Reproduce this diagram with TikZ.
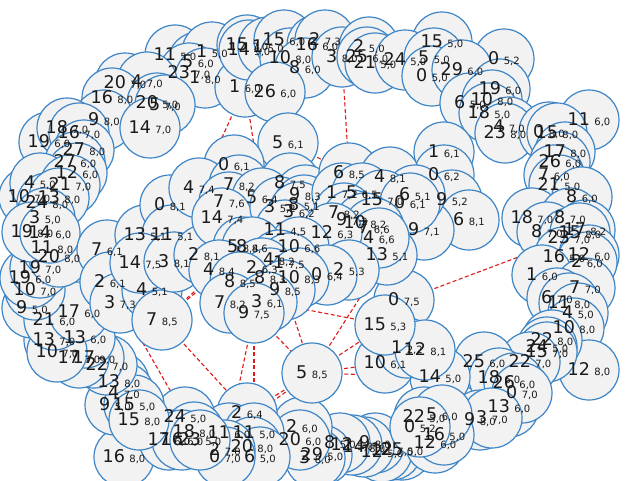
\documentclass[tikz,border=0pt]{standalone}
\usepackage{fontspec}
\setmainfont{DejaVu Sans}
\definecolor{ndline}{HTML}{3D85C6}
\definecolor{ndfill}{HTML}{F2F2F2}
\definecolor{edgered}{HTML}{E01818}
\definecolor{txt}{HTML}{1A1A1A}
\pgfdeclarelayer{bg}
\pgfdeclarelayer{fg}
\pgfsetlayers{bg,main,fg}
\newcommand\numf{\fontsize{17.5}{18}\selectfont}
\newcommand\subf{\fontsize{10}{11}\selectfont}
\newcommand\nd[4]{\node[nd] (#1) at (#2) {};%
  \begin{pgfonlayer}{fg}\node[ndlabel] at (#2) {\numf #3\hspace{4.5pt}\subf #4};\end{pgfonlayer}}
\tikzset{
  nd/.style={circle, draw=ndline, fill=ndfill, line width=1.2pt, minimum size=60pt, inner sep=0pt},
  ndlabel/.style={inner sep=0pt, text=txt},
  redge/.style={draw=edgered, line width=1.1pt, dash pattern=on 4pt off 2.5pt}
}
\begin{document}
\begin{tikzpicture}[x=1pt,y=-1pt]
\begin{pgfonlayer}{bg}
\fill[white] (0,0) rectangle (640,480);
\end{pgfonlayer}
\useasboundingbox (0,0) rectangle (640,480);
% top arc
\nd{t1}{175,55}{11}{5,0}
\nd{t2}{198,62}{5}{6,0}
\nd{t3}{212,52}{1}{5,0}
\nd{t5}{189,73}{23}{7,0}
\nd{t6}{205,78}{1}{8,0}
\nd{a160}{245,87}{1}{6,0}
\nd{t9}{247,45}{15}{7,0}
\nd{t10}{249,50}{14}{5,0}
\nd{t11}{268,47}{1}{5,0}
\nd{t12}{284,40}{15}{6,0}
\nd{t13}{290,58}{10}{8,0}
\nd{t14}{317,45}{16}{6,0}
\nd{t15}{325,40}{2}{7,3}
\nd{t16}{305,68}{8}{6,0}
\nd{a2660}{275,92}{26}{6,0}
\nd{a380}{342,57}{3}{8,0}
\nd{t18}{369,47}{2}{5,0}
\nd{t19}{367,57}{25}{6,0}
\nd{t20}{375,63}{21}{5,0}
\nd{t22}{442,42}{15}{5,0}
\nd{t21}{405,60}{24}{5,0}
\nd{t23}{434,58}{5}{5,0}
\nd{t24}{432,76}{0}{5,0}
\nd{t27}{504,59}{0}{5,2}
\nd{t25}{462,70}{29}{6,0}
\nd{t28}{500,89}{19}{6,0}
\nd{t29}{470,103}{6}{5,0}
\nd{t30}{492,100}{10}{8,0}
\nd{t31}{489,113}{18}{5,0}
\nd{t32}{509,127}{4}{7,0}
\nd{t33}{505,133}{23}{8,0}
\nd{t36}{589,120}{11}{6,0}
\nd{t34}{549,132}{0}{8,0}
\nd{t35}{557,133}{15}{8,0}
% right side
\nd{r37}{565,152}{17}{8,0}
\nd{r38}{560,162}{26}{6,0}
\nd{r39}{554,175}{7}{6,0}
\nd{r40}{559,185}{21}{5,0}
\nd{r41}{582,197}{8}{6,0}
\nd{r42}{532,218}{18}{7,0}
\nd{r43}{570,218}{8}{7,0}
\nd{r44}{547,232}{8}{7,0}
\nd{a2370}{569,238}{23}{7,0}
\nd{r46}{585,230}{17}{8,2}
\nd{r47}{580,233}{15}{8,0}
\nd{r48}{564,257}{16}{5,0}
\nd{r49}{589,255}{12}{6,0}
\nd{r50}{587,262}{2}{6,0}
\nd{r51}{542,275}{1}{6,0}
\nd{r52}{585,288}{7}{7,0}
\nd{r53}{557,298}{6}{7,0}
\nd{r54}{569,303}{11}{8,0}
\nd{r55}{578,313}{4}{5,0}
\nd{r56}{574,328}{10}{8,0}
\nd{r60}{589,370}{12}{8,0}
\nd{r57}{552,340}{22}{8,0}
\nd{r58}{547,347}{24}{5,0}
\nd{r59}{547,352}{15}{7,0}
\nd{r61}{530,362}{22}{7,0}
% bottom right
\nd{b62}{484,362}{25}{6,0}
\nd{b66}{509,407}{13}{6,0}
\nd{b63}{499,378}{18}{6,0}
\nd{b64}{514,383}{26}{6,0}
\nd{b65}{522,393}{0}{7,0}
\nd{b81}{480,420}{9}{8,0}
\nd{b82}{492,418}{3}{7,0}
\nd{a075}{404,300}{0}{7,5}
\nd{a1450}{440,377}{14}{5,0}
\nd{a1061}{385,363}{10}{6,1}
\nd{b69}{407,348}{1}{2,2}
\nd{b68}{425,350}{12}{8,1}
\nd{a1553}{385,325}{15}{5,3}
% bottom row
\nd{bb1}{402,450}{25}{5,0}
\nd{bb2}{392,450}{12}{7,0}
\nd{bb3}{382,452}{12}{5,0}
\nd{bb4}{375,443}{9}{8,0}
\nd{bb5}{364,447}{14}{8,0}
\nd{bb6}{352,445}{12}{5,0}
\nd{bb7}{340,443}{8}{5,0}
\nd{bb8}{322,455}{29}{5,0}
\nd{bb9}{315,458}{3}{8,0}
\nd{bb10}{302,427}{2}{6,0}
\nd{bb11}{300,440}{20}{6,0}
\nd{b80}{435,443}{12}{6,0}
\nd{b79}{444,435}{16}{5,0}
\nd{b76}{424,417}{22}{5,0}
\nd{b77}{442,415}{5}{6,0}
\nd{b78}{420,427}{0}{5,2}
% bottom left
\nd{a264}{247,413}{2}{6,4}
\nd{a1160}{229,433}{11}{6,0}
\nd{a1150}{254,433}{11}{5,0}
\nd{bl1}{252,447}{20}{8,0}
\nd{bl2}{260,457}{6}{5,0}
\nd{bl3}{225,450}{2}{7,0}
\nd{bl4}{225,457}{0}{7,0}
\nd{bl10}{124,457}{16}{8,0}
\nd{bl5}{185,417}{24}{5,0}
\nd{a1880}{194,432}{18}{8,0}
\nd{bl6}{169,440}{17}{6,0}
\nd{bl7}{182,440}{16}{6,0}
\nd{bl8}{200,440}{23}{5,0}
\nd{bl11}{119,382}{13}{8,0}
\nd{bl12}{124,393}{4}{7,0}
\nd{bl13}{115,405}{9}{5,0}
\nd{bl14}{134,405}{15}{5,0}
\nd{bl9}{139,420}{15}{8,0}
\nd{bl15}{107,365}{22}{7,0}
\nd{bl16}{94,358}{17}{9,0}
\nd{bl17}{79,358}{17}{7,0}
\nd{bl18}{54,340}{13}{7,0}
\nd{bl19}{85,338}{13}{6,0}
\nd{bl20}{57,352}{10}{7,0}
\nd{bl23}{32,308}{9}{5,0}
\nd{bl22}{54,320}{21}{6,0}
\nd{bl21}{79,312}{17}{6,0}
\nd{bl24}{35,290}{10}{7,0}
\nd{bl25}{30,278}{19}{6,0}
\nd{bl26}{40,268}{19}{7,0}
\nd{bl27}{52,248}{11}{8,0}
\nd{bl28}{59,257}{20}{8,0}
% left arc
\nd{l2}{125,83}{20}{7,0}
\nd{l3}{147,82}{4}{7,0}
\nd{l1}{112,98}{16}{8,0}
\nd{l4}{157,103}{20}{5,0}
\nd{l5}{165,105}{5}{7,0}
\nd{l6}{104,120}{9}{8,0}
\nd{l7}{150,128}{14}{7,0}
\nd{l10}{49,142}{19}{6,0}
\nd{l8}{67,128}{18}{7,0}
\nd{l9}{79,133}{16}{7,0}
\nd{l11}{84,150}{27}{8,0}
\nd{l12}{75,162}{27}{6,0}
\nd{l13}{77,173}{12}{6,0}
\nd{l16}{29,197}{10}{7,0}
\nd{l14}{40,183}{4}{5,0}
\nd{l15}{70,185}{21}{7,0}
\nd{l17}{47,203}{24}{8,0}
\nd{l18}{59,198}{13}{8,0}
\nd{l19}{45,218}{3}{5,0}
\nd{l20}{32,232}{19}{8,0}
\nd{l21}{50,233}{14}{6,0}
% inner left
\nd{i1}{107,250}{7}{6,1}
\nd{i2}{110,282}{2}{6,1}
\nd{a373}{120,303}{3}{7,3}
\nd{i4}{152,290}{4}{5,1}
\nd{a785}{162,320}{7}{8,5}
\nd{i6}{145,235}{13}{5,1}
\nd{i8}{170,205}{0}{8,1}
\nd{i7}{172,235}{11}{5,1}
\nd{i9}{140,263}{14}{7,5}
\nd{i10}{174,262}{3}{8,1}
\nd{i11}{204,255}{2}{8,1}
% central cluster
\nd{a561}{288,143}{5}{6,1}
\nd{c13}{444,152}{1}{6,1}
\nd{c14}{444,175}{0}{6,2}
\nd{c15}{452,200}{9}{5,2}
\nd{c16}{469,220}{6}{8,1}
\nd{c2}{234,165}{0}{6,1}
\nd{a474}{199,188}{4}{7,4}
\nd{c4}{239,185}{7}{8,2}
\nd{c5}{290,183}{8}{7,5}
\nd{c6}{229,202}{7}{7,6}
\nd{a564}{262,198}{5}{6,4}
\nd{c8}{222,218}{14}{7,4}
\nd{c9}{305,195}{9}{8,3}
\nd{c10}{280,207}{3}{5,2}
\nd{c11}{304,205}{8}{5,1}
\nd{c12}{299,212}{3}{6,2}
\nd{a685}{349,173}{6}{8,5}
\nd{c17}{390,177}{4}{8,1}
\nd{c18}{424,230}{9}{7,1}
\nd{c19}{342,193}{1}{7,2}
\nd{c20}{362,193}{5}{6,5}
\nd{c22}{415,195}{6}{5,1}
\nd{c21}{382,200}{15}{7,0}
\nd{c23}{410,203}{0}{6,1}
\nd{a1351}{387,255}{13}{5,1}
\nd{c24}{344,213}{7}{8,2}
\nd{c25}{352,220}{9}{7,2}
\nd{c26}{365,223}{10}{8,2}
\nd{c27}{374,228}{7}{6,6}
\nd{c28}{379,238}{4}{6,6}
\nd{c29}{285,230}{11}{4,5}
\nd{c30}{332,233}{12}{6,3}
\nd{c31}{299,247}{10}{6,6}
\nd{c32}{243,247}{5}{8,4}
\nd{a586}{252,247}{8}{8,6}
\nd{a2653}{349,270}{2}{5,3}
\nd{c35}{327,275}{0}{6,4}
\nd{c33}{279,260}{4}{8,2}
\nd{c34}{289,263}{1}{7,5}
\nd{a484}{219,270}{4}{8,4}
\nd{a263}{262,268}{2}{6,3}
\nd{c36}{270,278}{8}{8,3}
\nd{c37}{299,278}{10}{8,3}
\nd{c38}{240,282}{8}{8,5}
\nd{a985}{285,290}{9}{8,5}
\nd{c39}{230,303}{7}{8,2}
\nd{a361}{267,302}{3}{6,1}
\nd{a975}{254,313}{9}{7,5}
\nd{a585}{312,373}{5}{8,5}
\begin{pgfonlayer}{bg}
\path[redge] (a160.center) -- (a474.center);
\path[redge] (a160.center) -- (a564.center);
\path[redge] (a380.center) -- (a685.center);
\path[redge] (a561.center) -- (a685.center);
\path[redge] (a075.center) -- (a2370.center);
\path[redge] (a785.center) -- (a264.center);
\path[redge] (a785.center) -- (a484.center);
\path[redge] (a785.center) -- (a586.center);
\path[redge] (a373.center) -- (a1880.center);
\path[redge] (a975.center) -- (a1160.center);
\path[redge] (a975.center) -- (a1150.center);
\path[redge] (a975.center) -- (a585.center);
\path[redge] (a985.center) -- (a585.center);
\path[redge] (a361.center) -- (a1553.center);
\path[redge] (a585.center) -- (a1553.center);
\path[redge] (a585.center) -- (a1061.center);
\path[redge] (a585.center) -- (a1450.center);
\path[redge] (a585.center) -- (a1351.center);
\path[redge] (a585.center) -- (a264.center);
\path[redge] (a585.center) -- (a1160.center);
\end{pgfonlayer}
\end{tikzpicture}
\end{document}
